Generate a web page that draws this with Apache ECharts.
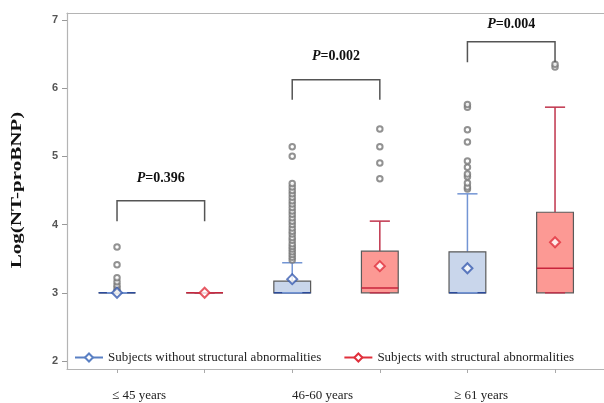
<!DOCTYPE html>
<html>
<head>
<meta charset="utf-8">
<script src="https://cdn.jsdelivr.net/npm/echarts@6/dist/echarts.min.js"></script>
<style>
  html, body { margin: 0; padding: 0; background: #fff; }
  #chart { width: 604px; height: 403px; }
</style>
</head>
<body>
<div id="chart"></div>
<script>
// group labels along the bottom
var groups = ['\u2264 45 years', '46-60 years', '\u2265 61 years']
var seriesNames = ['Subjects without structural abnormalities', 'Subjects with structural abnormalities']
var yTitle = 'Log(NT-proBNP)'

// box stats, one value per age group
var noneMin = [3.0, 3.0, 3.0]
var noneQ1 = [3.0, 3.0, 3.0]
var noneMed = [3.0, 3.0, 3.0]
var noneQ3 = [3.0, 3.17, 3.60]
var noneMax = [3.0, 3.44, 4.45]
var noneMean = [3.0, 3.20, 3.36]
var noneOut = [
  [3.03, 3.07, 3.11, 3.16, 3.22, 3.41, 3.67],
  [3.48, 3.52, 3.56, 3.60, 3.64, 3.68, 3.72, 3.77, 3.81, 3.86, 3.90, 3.95, 4.00, 4.05,
   4.10, 4.15, 4.20, 4.25, 4.30, 4.35, 4.40, 4.45, 4.50, 4.55, 4.60, 5.00, 5.14],
  [4.52, 4.55, 4.61, 4.70, 4.74, 4.84, 4.93, 5.21, 5.39, 5.72, 5.76]
]

var withMin = [3.0, 3.0, 3.0]
var withQ1 = [3.0, 3.0, 3.0]
var withMed = [3.0, 3.07, 3.36]
var withQ3 = [3.0, 3.61, 4.18]
var withMax = [3.0, 4.05, 5.72]
var withMean = [3.0, 3.39, 3.74]
var withOut = [
  [],
  [4.67, 4.90, 5.14, 5.40],
  [6.31, 6.35]
]

// p-value brackets
var pValues = ['0.396', '0.002', '0.004']
var bracketTop = [4.35, 6.12, 6.68]
var bracketLeg = [4.05, 5.83, 6.38]
var pTextY = [4.68, 6.46, 6.93]

// tick labels
var yTicks = [2, 3, 4, 5, 6, 7]
var xTicks = [1, 2, 3, 4, 5, 6]

var frameColor = '#b4b4b4'
var colors = {
  none: { fill: '#c9d6eb', whisker: '#7395d4', median: '#2b4b9b', mean: '#3a5cb0' },
  with: { fill: '#fc9994', whisker: '#c0344c', median: '#c8243c', mean: '#e0303c' }
}

function pos (g, s) { return 2 * g + s + 1 }

function boxData (s, mins, q1s, meds, q3s, maxs) {
  return groups.map(function (n, g) {
    return [pos(g, s), mins[g], q1s[g], meds[g], q3s[g], maxs[g]]
  })
}

function makeBoxRender (c) {
  return function (params, api) {
    var x = api.value(0)
    var pMin = api.coord([x, api.value(1)])
    var pQ1 = api.coord([x, api.value(2)])
    var pMed = api.coord([x, api.value(3)])
    var pQ3 = api.coord([x, api.value(4)])
    var pMax = api.coord([x, api.value(5)])
    var bw = api.size([0.42, 0])[0]
    var cw = api.size([0.23, 0])[0]
    var cx = pMed[0]
    return {
      type: 'group',
      children: [
        { type: 'line', shape: { x1: cx, y1: pQ3[1], x2: cx, y2: pMax[1] }, style: { stroke: c.whisker, lineWidth: 1.5 } },
        { type: 'line', shape: { x1: cx, y1: pQ1[1], x2: cx, y2: pMin[1] }, style: { stroke: c.whisker, lineWidth: 1.5 } },
        { type: 'rect', shape: { x: cx - bw / 2, y: pQ3[1], width: bw, height: pQ1[1] - pQ3[1] }, style: { fill: c.fill, stroke: '#5a5a5a', lineWidth: 1.2 } },
        { type: 'line', shape: { x1: cx - bw / 2, y1: pMed[1], x2: cx + bw / 2, y2: pMed[1] }, style: { stroke: c.median, lineWidth: 1.5 } },
        { type: 'line', shape: { x1: cx - cw / 2, y1: pMax[1], x2: cx + cw / 2, y2: pMax[1] }, style: { stroke: c.whisker, lineWidth: 1.5 } },
        { type: 'line', shape: { x1: cx - cw / 2, y1: pMin[1], x2: cx + cw / 2, y2: pMin[1] }, style: { stroke: c.whisker, lineWidth: 1.5 } }
      ]
    }
  }
}

var outlierData = []
noneOut.forEach(function (list, g) { list.forEach(function (v) { outlierData.push([pos(g, 0), v]) }) })
withOut.forEach(function (list, g) { list.forEach(function (v) { outlierData.push([pos(g, 1), v]) }) })

var bracketData = groups.map(function (n, g) {
  return [pos(g, 0), pos(g, 1), bracketTop[g], bracketLeg[g], pTextY[g]]
})

var labelLeft = [112, 292, 454]
var graphics = groups.map(function (label, i) {
  return {
    type: 'text', left: labelLeft[i], top: 389,
    style: { text: label, fontFamily: 'Liberation Serif', fontSize: 13, fill: '#222' }
  }
})
// y title, stretched along its length like the source picture
graphics.push({
  type: 'text', x: 17, y: 190, rotation: Math.PI / 2, scaleX: 1.5,
  style: {
    text: yTitle, align: 'center', verticalAlign: 'middle',
    fontFamily: 'Liberation Serif', fontWeight: 'bold', fontSize: 14, fill: '#111'
  }
})

var chart = echarts.init(document.getElementById('chart'))
var option = {
  animation: false,
  grid: { left: 67, top: 13, right: 0, bottom: 34 },
  legend: {
    left: 69, top: 346,
    itemWidth: 28, itemHeight: 10, itemGap: 22,
    textStyle: { fontFamily: 'Liberation Serif', fontSize: 13, color: '#222' },
    data: seriesNames
  },
  xAxis: [
    {
      type: 'value', min: 0.429, max: 6.559,
      axisLine: { show: true, onZero: false, lineStyle: { color: frameColor, width: 1.2 } },
      axisTick: { show: true, customValues: xTicks, length: 4, lineStyle: { color: '#aaa' } },
      axisLabel: { show: false },
      splitLine: { show: false }
    },
    {
      type: 'value', position: 'top', min: 0.429, max: 6.559,
      axisLine: { show: true, onZero: false, lineStyle: { color: frameColor, width: 1.2 } },
      axisTick: { show: false }, axisLabel: { show: false }, splitLine: { show: false }
    }
  ],
  yAxis: {
    type: 'value', min: 1.883, max: 7.1,
    axisLine: { show: true, onZero: false, lineStyle: { color: frameColor, width: 1.2 } },
    axisTick: { show: true, customValues: yTicks, length: 5, lineStyle: { color: '#999' } },
    axisLabel: { customValues: yTicks, color: '#555', fontWeight: 'bold', fontSize: 11, fontFamily: 'Liberation Sans', margin: 9 },
    splitLine: { show: false }
  },
  graphic: graphics,
  series: [
    {
      type: 'custom', renderItem: makeBoxRender(colors.none),
      data: boxData(0, noneMin, noneQ1, noneMed, noneQ3, noneMax), z: 2
    },
    {
      type: 'custom', renderItem: makeBoxRender(colors.with),
      data: boxData(1, withMin, withQ1, withMed, withQ3, withMax), z: 2
    },
    {
      type: 'scatter', data: outlierData, symbol: 'emptyCircle', symbolSize: 5.5,
      itemStyle: { color: '#777', borderWidth: 1.3 }, z: 3
    },
    {
      type: 'scatter', symbol: 'emptyDiamond', symbolSize: 10, z: 4,
      itemStyle: { color: colors.none.mean, borderWidth: 1.4 },
      data: noneMean.map(function (v, g) { return [pos(g, 0), v] })
    },
    {
      type: 'scatter', symbol: 'emptyDiamond', symbolSize: 10, z: 4,
      itemStyle: { color: colors.with.mean, borderWidth: 1.4 },
      data: withMean.map(function (v, g) { return [pos(g, 1), v] })
    },
    {
      type: 'custom', data: bracketData, z: 5,
      renderItem: function (params, api) {
        var a = api.coord([api.value(0), api.value(3)])
        var b = api.coord([api.value(0), api.value(2)])
        var c = api.coord([api.value(1), api.value(2)])
        var d = api.coord([api.value(1), api.value(3)])
        var t = api.coord([(api.value(0) + api.value(1)) / 2, api.value(4)])
        return {
          type: 'group',
          children: [
            { type: 'polyline', shape: { points: [a, b, c, d] }, style: { stroke: '#555', lineWidth: 1.5, fill: null } },
            {
              type: 'text', x: t[0], y: t[1],
              style: {
                text: '{p|P}{v|=' + pValues[params.dataIndex] + '}',
                align: 'center', verticalAlign: 'middle',
                rich: {
                  p: { fontFamily: 'Liberation Serif', fontWeight: 'bold', fontStyle: 'italic', fontSize: 14, fill: '#111' },
                  v: { fontFamily: 'Liberation Serif', fontWeight: 'bold', fontSize: 14, fill: '#111' }
                }
              }
            }
          ]
        }
      }
    },
    // legend entries
    {
      name: seriesNames[0], type: 'line', data: [], symbol: 'emptyDiamond', symbolSize: 8,
      itemStyle: { color: '#5a80c4', borderWidth: 1.4 }, lineStyle: { color: '#5a80c4', width: 1.5 }
    },
    {
      name: seriesNames[1], type: 'line', data: [], symbol: 'emptyDiamond', symbolSize: 8,
      itemStyle: { color: '#e0303c', borderWidth: 1.4 }, lineStyle: { color: '#e0303c', width: 1.5 }
    }
  ]
}
chart.setOption(option)
</script>
</body>
</html>
